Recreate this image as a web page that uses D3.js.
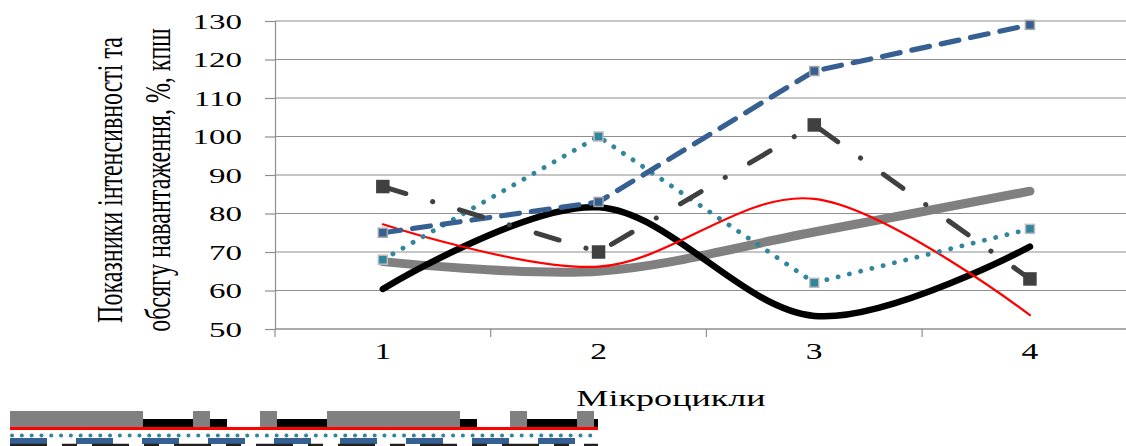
<!DOCTYPE html>
<html>
<head>
<meta charset="utf-8">
<script src="https://cdn.jsdelivr.net/npm/d3@7/dist/d3.min.js"></script>
<style>
  html, body { margin: 0; padding: 0; background: #fff; overflow: hidden; }
  svg { display: block; }
  text { font-family: "Liberation Serif", "Times New Roman", serif; fill: #000; }
</style>
</head>
<body>
<svg id="chart" width="1126" height="446"></svg>
<script>
// ---------- data ----------
const categories = ["1", "2", "3", "4"];
const yTicks = [50, 60, 70, 80, 90, 100, 110, 120, 130];
const yTitleLines = ["Показники інтенсивності та", "обсягу навантаження, %, кпш"];
const xTitle = "Мікроцикли";

const grayValues  = [67.5, 65.0, 75.2, 85.8];
const blackValues = [60.4, 81.6, 53.4, 71.4];
const redValues   = [77.2, 66.2, 83.8, 53.6];
const tealValues  = [68, 100, 62, 76];
const blueValues  = [75, 83, 117, 129];
const darkValues  = [87, 70, 103, 63];

const series = [
  { key: "gray",  values: grayValues,  color: "#808080", width: 9, dash: null, smooth: true, marker: null },
  { key: "black", values: blackValues, color: "#000000", width: 6.5, dash: null, smooth: true, marker: null },
  { key: "red",   values: redValues,   color: "#ff0000", width: 2.2, dash: null, smooth: true, marker: null },
  { key: "teal",  values: tealValues,  color: "#31859c", width: 4.8, dash: "0.1 11.5", cap: "round", smooth: false,
    marker: { size: 9, fill: "#31859c", stroke: "#bdbdbd" } },
  { key: "blue",  values: blueValues,  color: "#376092", width: 5.2, dash: "18 12", cap: "round", smooth: false,
    marker: { size: 9, fill: "#376092", stroke: "#a6a6a6" } },
  { key: "dark",  values: darkValues,  color: "#404040", width: 5, dash: "24 28 0.1 28", cap: "round", smooth: false,
    marker: { size: 12, fill: "#404040", stroke: "#404040" } }
];

// legend key styles (cut-off legend strip at the bottom)
const legendKeys = [
  { key: "red",   color: "#ff0000", width: 3,  dash: null,                      y: 428.5, x0: 10, x1: 598, cap: "butt" },
  { key: "black", color: "#000000", width: 8,  dash: "92 33",                   y: 423,   x0: 10, x1: 598, cap: "butt" },
  { key: "gray",  color: "#808080", width: 16, dash: "133 50 17 50 17 50",      y: 419,   x0: 10, x1: 598, cap: "butt" },
  { key: "blue",  color: "#376092", width: 6,  dash: "37 29",                   y: 441,   x0: 10, x1: 598, cap: "butt" },
  { key: "teal",  color: "#31859c", width: 4,  dash: "0.1 9.7",                 y: 435.5, x0: 12, x1: 598, cap: "round" },
  { key: "dark",  color: "#202020", width: 3.5, dash: "37 15 15 15",            y: 445.5, x0: 10, x1: 598, cap: "butt" }
];

// ---------- scales ----------
const svg = d3.select("#chart");
const plotLeft = 275, plotTop = 21, plotBottom = 329;
const bandW = 215.7;
const x = d3.scaleBand().domain(categories).range([plotLeft, plotLeft + bandW * categories.length]).paddingInner(0).paddingOuter(0);
const y = d3.scaleLinear().domain([50, 130]).range([plotBottom, plotTop]);
const cx = c => x(c) + x.bandwidth() / 2;

const gridColor = "#8e8e8e";

// gridlines
svg.append("g").selectAll("line").data(yTicks).join("line")
  .attr("x1", plotLeft).attr("x2", 1126)
  .attr("y1", d => y(d)).attr("y2", d => y(d))
  .attr("stroke", gridColor).attr("stroke-width", 1.2);

// y axis
const yAxis = d3.axisLeft(y).tickValues(yTicks).tickSize(10).tickPadding(0).tickFormat(d3.format("d"));
const gy = svg.append("g").attr("transform", `translate(${plotLeft},0)`).call(yAxis);
gy.select(".domain").attr("stroke", gridColor).attr("stroke-width", 1.2);
gy.selectAll(".tick line").attr("stroke", gridColor).attr("stroke-width", 1.2);
gy.selectAll(".tick text").remove();
svg.append("g").selectAll("text").data(yTicks).join("text")
  .attr("transform", d => `translate(242, ${y(d) + 7.5}) scale(1.5,1)`)
  .attr("text-anchor", "end")
  .style("font-size", "22px")
  .text(d => d);

// x axis
const boundaries = categories.map(c => x(c)).concat([x(categories[categories.length - 1]) + x.bandwidth()]);
svg.append("line").attr("x1", plotLeft).attr("x2", 1126).attr("y1", plotBottom).attr("y2", plotBottom)
  .attr("stroke", gridColor).attr("stroke-width", 1.2);
svg.append("g").selectAll("line").data(boundaries).join("line")
  .attr("x1", d => d).attr("x2", d => d).attr("y1", plotBottom).attr("y2", plotBottom + 8)
  .attr("stroke", gridColor).attr("stroke-width", 1.2);
svg.append("g").selectAll("text").data(categories).join("text")
  .attr("transform", d => `translate(${cx(d)}, 359) scale(1.4,1)`)
  .attr("text-anchor", "middle")
  .style("font-size", "24px")
  .text(d => d);

// axis titles
svg.append("text")
  .attr("transform", "translate(671, 406) scale(1.57,1)")
  .attr("text-anchor", "middle")
  .style("font-size", "23px")
  .text(xTitle);

const titleX = [122, 170];
yTitleLines.forEach((t, i) => {
  svg.append("text")
    .attr("transform", `translate(${titleX[i]}, 180) scale(1.45,1) rotate(-90)`)
    .attr("text-anchor", "middle")
    .style("font-size", "24px")
    .text(t);
});

// series
series.forEach(s => {
  const line = d3.line()
    .x((d, i) => cx(categories[i]))
    .y(d => y(d))
    .curve(s.smooth ? d3.curveCardinal.tension(0) : d3.curveLinear);
  svg.append("path")
    .datum(s.values)
    .attr("d", line)
    .attr("fill", "none")
    .attr("stroke", s.color)
    .attr("stroke-width", s.width)
    .attr("stroke-linecap", s.cap || "round")
    .attr("stroke-linejoin", "round")
    .attr("stroke-dasharray", s.dash);
  if (s.marker) {
    const m = s.marker;
    svg.append("g").selectAll("rect").data(s.values).join("rect")
      .attr("x", (d, i) => cx(categories[i]) - m.size / 2)
      .attr("y", d => y(d) - m.size / 2)
      .attr("width", m.size).attr("height", m.size)
      .attr("fill", m.fill)
      .attr("stroke", m.stroke)
      .attr("stroke-width", 1.5);
  }
});

// legend strip
legendKeys.forEach(k => {
  svg.append("line")
    .attr("x1", k.x0).attr("x2", k.x1)
    .attr("y1", k.y).attr("y2", k.y)
    .attr("stroke", k.color)
    .attr("stroke-width", k.width)
    .attr("stroke-linecap", k.cap)
    .attr("stroke-dasharray", k.dash);
});
</script>
</body>
</html>
